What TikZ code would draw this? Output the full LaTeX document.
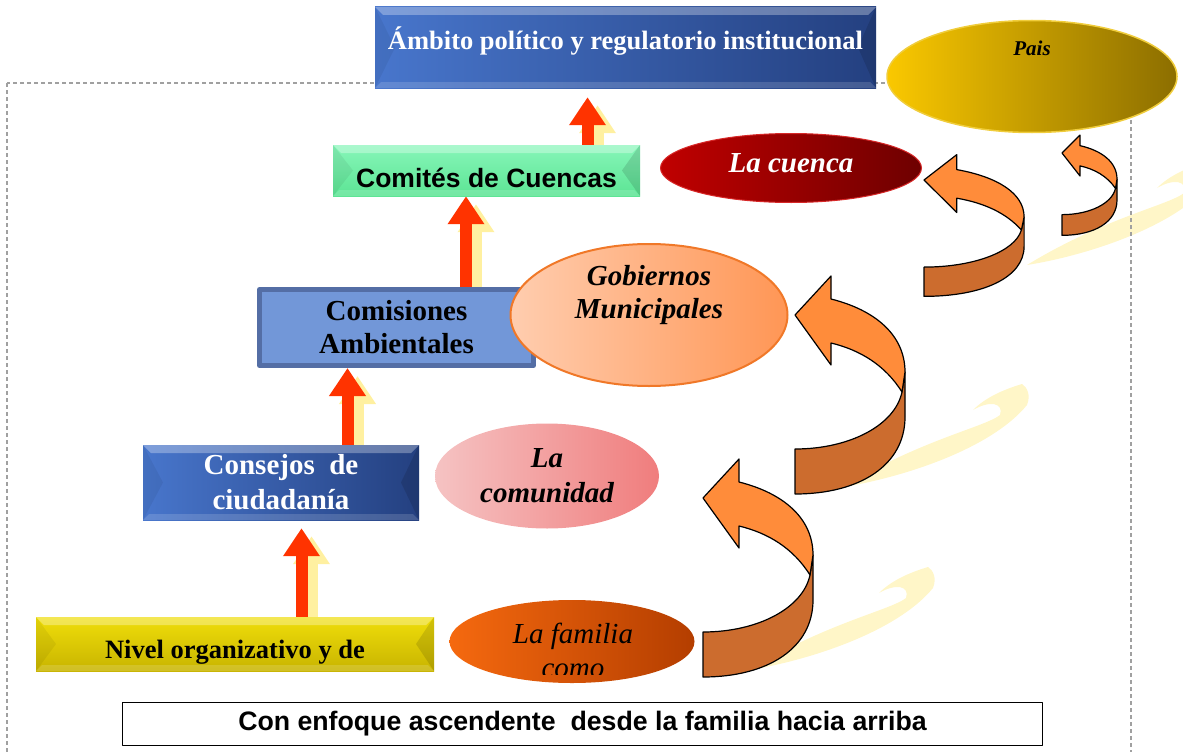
\documentclass[tikz,border=0pt]{standalone}
\usepackage{fontspec}
\setmainfont{Liberation Serif}
\setsansfont{Liberation Sans}
\usetikzlibrary{arrows.meta, positioning, shapes.geometric, backgrounds}

% colours
\definecolor{ambitoleft}{RGB}{72,118,204}
\definecolor{ambitoright}{RGB}{36,64,128}
\definecolor{comitestop}{RGB}{135,246,185}
\definecolor{comitesbot}{RGB}{92,228,148}
\definecolor{comisionfill}{RGB}{114,151,216}
\definecolor{comisionline}{RGB}{84,110,165}
\definecolor{nivtop}{RGB}{240,222,10}
\definecolor{nivbot}{RGB}{200,180,0}
\definecolor{paisleft}{RGB}{250,200,0}
\definecolor{paisright}{RGB}{140,110,0}
\definecolor{paisline}{RGB}{240,205,60}
\definecolor{cuencaleft}{RGB}{192,0,0}
\definecolor{cuencaright}{RGB}{110,0,0}
\definecolor{cuencaline}{RGB}{215,40,40}
\definecolor{gobleft}{RGB}{255,205,175}
\definecolor{gobright}{RGB}{255,150,85}
\definecolor{gobline}{RGB}{240,120,40}
\definecolor{comleft}{RGB}{245,195,195}
\definecolor{comright}{RGB}{240,125,125}
\definecolor{famleft}{RGB}{245,105,15}
\definecolor{famright}{RGB}{180,62,0}
\definecolor{arrowred}{RGB}{255,51,0}
\definecolor{shadowyellow}{RGB}{255,240,160}
\definecolor{ribbonlight}{RGB}{255,140,58}
\definecolor{ribbondark}{RGB}{204,108,46}
\definecolor{swooshyellow}{RGB}{255,246,200}
\definecolor{framegray}{RGB}{160,160,160}

\tikzset{
  box/.style={rectangle, inner sep=0pt, align=center},
  bevel/.style={path picture={
    \fill[white, opacity=.3] (path picture bounding box.north west) -- (path picture bounding box.north east)
      -- ([xshift=-8pt,yshift=-8pt]path picture bounding box.north east) -- ([xshift=8pt,yshift=-8pt]path picture bounding box.north west) -- cycle;
    \fill[white, opacity=.15] (path picture bounding box.south west) -- (path picture bounding box.south east)
      -- ([xshift=-6pt,yshift=6pt]path picture bounding box.south east) -- ([xshift=6pt,yshift=6pt]path picture bounding box.south west) -- cycle;
    \fill[black, opacity=.06] (path picture bounding box.north west) -- ([xshift=20pt]path picture bounding box.west) -- (path picture bounding box.south west) -- cycle;
    \fill[black, opacity=.12] (path picture bounding box.north east) -- ([xshift=-18pt]path picture bounding box.east) -- (path picture bounding box.south east) -- cycle;
  }},
  bluebox/.style={box, bevel, left color=ambitoleft, right color=ambitoright, text=white},
  greenbox/.style={box, bevel, top color=comitestop, bottom color=comitesbot},
  yellowbox/.style={box, bevel, top color=nivtop, bottom color=nivbot},
  oval/.style={ellipse, inner sep=0pt, align=center},
  uparrow/.style={draw=arrowred, line width=12pt, -{Triangle[width=35pt,length=28pt]}},
  upshadow/.style={uparrow, draw=shadowyellow},
  ribbonfront/.style={fill=ribbonlight, draw=black, line width=1.2pt},
  ribbonback/.style={fill=ribbondark, draw=black, line width=1.2pt},
  swoosh/.style={fill=swooshyellow},
}

% curved 3D arrow: tip x, tip y, xscale, yscale
\newcommand{\ribbonarrow}[4]{%
  \begin{scope}[shift={(#1,#2)}, xscale=#3, yscale=#4]
    \path[ribbonback] (0,134) .. controls (55,134) and (100,110) .. (107,77) -- (110,57) -- (110,102)
      .. controls (110,150) and (65,179) .. (0,179) -- cycle;
    \path[ribbonfront] (36,-16) .. controls (80,-5) and (110,20) .. (110,57) -- (107,77)
      .. controls (90,50) and (65,35) .. (36,28) -- (36,50) -- (0,0) -- (36,-39) -- cycle;
  \end{scope}}

% faint brush stroke behind the curved arrows
\newcommand{\swooshat}[2]{%
  \path[swoosh, shift={(#1,#2)}] (843,487) .. controls (900,478) and (990,450) .. (1027,405)
    .. controls (1031,395) and (1027,387) .. (1022,384) .. controls (1002,390) and (985,398) .. (973,410)
    .. controls (990,400) and (1004,403) .. (1000,415) .. controls (985,427) and (920,440) .. (843,487) -- cycle;}

\begin{document}
\begin{tikzpicture}[x=1pt, y=-1pt, line join=round]
  \useasboundingbox (0,0) rectangle (1183,752);

  % Levels (boxes)
  \node[bluebox, minimum width=501pt, minimum height=81pt, text height=19pt, text depth=14pt,
        font=\fontsize{26.5}{30}\selectfont\bfseries] (ambito) at (625.5,47.5) {Ámbito político y regulatorio institucional};
  \node[greenbox, minimum width=307pt, minimum height=51pt, text height=34pt, text depth=0pt,
        font=\sffamily\fontsize{26.5}{30}\selectfont\bfseries] (comites) at (486.5,170.5) {Comités de Cuencas};
  \node[box, fill=comisionfill, draw=comisionline, line width=5pt, minimum width=274pt, minimum height=76pt,
        font=\fontsize{29}{33}\selectfont\bfseries] (comisiones) at (396.5,327.5) {Comisiones\\Ambientales};
  \node[bluebox, minimum width=276pt, minimum height=75pt,
        font=\fontsize{29}{35}\selectfont\bfseries] (consejos) at (281,482.5) {Consejos~ de\\ciudadanía};
  \node[yellowbox, minimum width=398pt, minimum height=54pt, text height=28pt, text depth=0pt,
        font=\fontsize{26.5}{30}\selectfont\bfseries] (nivel) at (235,644) {Nivel organizativo y de};
  \node[box, draw=black, line width=1.2pt, fill=white, minimum width=920pt, minimum height=43pt,
        font=\sffamily\fontsize{26.7}{30}\selectfont\bfseries] (enfoque) at (582.5,724) {Con enfoque ascendente~ desde la familia hacia arriba};

  % Scopes (ellipses)
  \node[oval, left color=paisleft, right color=paisright, draw=paisline, line width=1.5pt,
        minimum width=290pt, minimum height=112pt, text height=0pt, text depth=41pt,
        font=\fontsize{21}{24}\selectfont\bfseries\itshape] (pais) at (1032,76.5) {Pais};
  \node[oval, left color=cuencaleft, right color=cuencaright, draw=cuencaline, line width=1pt,
        minimum width=261pt, minimum height=69pt, text=white, text height=19pt, text depth=10pt,
        font=\fontsize{29}{33}\selectfont\bfseries\itshape] (cuenca) at (791,168) {La cuenca};
  \node[oval, left color=gobleft, right color=gobright, draw=gobline, line width=2pt,
        minimum width=277pt, minimum height=142pt, text height=40pt, text depth=33pt,
        font=\fontsize{29}{33}\selectfont\bfseries\itshape] (gobiernos) at (649,315) {Gobiernos\\Municipales};
  \node[oval, left color=comleft, right color=comright, minimum width=224pt, minimum height=105pt,
        font=\fontsize{29}{35}\selectfont\bfseries\itshape] (comunidad) at (547,476) {La\\comunidad};
  \node[oval, left color=famleft, right color=famright, minimum width=245pt, minimum height=83pt] (familia) at (572,641.5) {};
  \begin{scope}
    \clip (440,590) rectangle (705,674);
    \node[align=center, inner sep=0pt, anchor=base, font=\fontsize{29}{34}\selectfont\itshape] (familiatxt) at (573,677) {La familia\\como};
  \end{scope}

  % Curved arrows
  \ribbonarrow{703}{498}{1}{1}
  \ribbonarrow{795}{315}{1}{1}
  \ribbonarrow{924}{180}{.91}{.65}
  \ribbonarrow{1062}{153}{.5}{.46}

  \begin{scope}[on background layer]
    % faint strokes
    \swooshat{-94}{183}
    \swooshat{0}{0}
    \swooshat{184}{-222}
    % dashed frame
    \draw[framegray, line width=1.2pt, dash pattern=on 4pt off 3pt] (7,83) rectangle (1131,770);
    % upward arrows with their shadows
    \foreach \from/\fx/\to/\tx/\ty in {nivel/66.5/consejos/20.5/-8, consejos/66.5/comisiones/-49/0,
                                       comisiones/69.5/comites/-20.5/0, comites/101/ambito/-38/-9} {
      \draw[upshadow] ([xshift=\fx pt+10pt, yshift=-8pt]\from.north) -- ([xshift=\tx pt+10pt, yshift=\ty pt-8pt]\to.south);
      \draw[uparrow] ([xshift=\fx pt]\from.north) -- ([xshift=\tx pt, yshift=\ty pt]\to.south);
    }
  \end{scope}
\end{tikzpicture}
\end{document}
